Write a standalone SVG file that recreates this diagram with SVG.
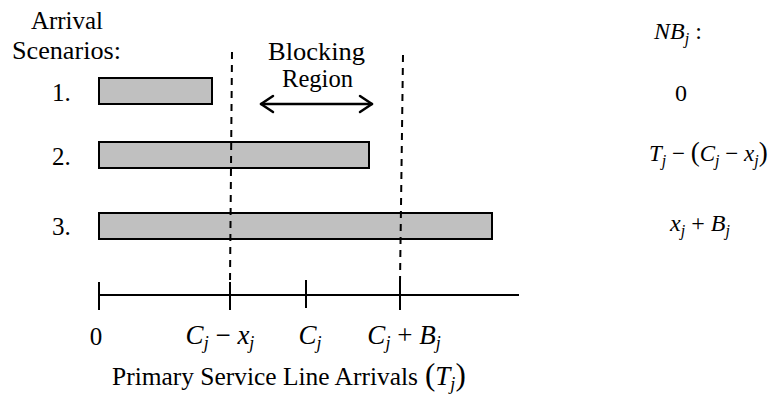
<svg xmlns="http://www.w3.org/2000/svg" width="773" height="400" viewBox="0 0 773 400">
<style>
text{font-family:'Liberation Serif',serif;fill:#000}
.t{font-size:25px}
.m{font-size:27px}
.r{font-size:24px}
.rt{font-size:23px}
.i{font-style:italic}
.s{font-size:18px}
.rs{font-size:16px}
.p{font-size:31px}
.rp{font-size:27px}
.bar{fill:#c0c0c0;stroke:#000;stroke-width:2}
.dash{stroke:#000;stroke-width:2;stroke-dasharray:7 6;fill:none}
.ax{stroke:#000;stroke-width:2;fill:none}
.arr{stroke:#000;stroke-width:2.5;fill:none;stroke-linecap:round;stroke-linejoin:round}
</style>
<rect width="773" height="400" fill="#fff"/>
<g id="labels-left">
<text class="t" x="31" y="29" textLength="72" lengthAdjust="spacingAndGlyphs">Arrival</text>
<text class="t" x="12" y="59" textLength="109" lengthAdjust="spacingAndGlyphs">Scenarios:</text>
<text class="t" x="52" y="101">1.</text>
<text class="t" x="52" y="165">2.</text>
<text class="t" x="52" y="235">3.</text>
</g>
<g id="scenario1"><rect class="bar" x="99" y="78" width="113" height="26"/></g>
<g id="scenario2"><rect class="bar" x="99" y="142" width="270" height="26"/></g>
<g id="scenario3"><rect class="bar" x="99" y="213" width="393" height="26"/></g>
<g id="blocking-region">
<text class="t" x="268" y="60" textLength="97" lengthAdjust="spacingAndGlyphs">Blocking</text>
<text class="t" x="282" y="87" textLength="71" lengthAdjust="spacingAndGlyphs">Region</text>
<line class="arr" x1="261" y1="104" x2="372" y2="104"/>
<polyline class="arr" points="273,96 261,104 273,112"/>
<polyline class="arr" points="360,96 372,104 360,112"/>
</g>
<g id="connectors">
<line class="dash" x1="232" y1="52" x2="230" y2="282"/>
<line class="dash" x1="403" y1="55" x2="400" y2="282"/>
</g>
<g id="axis">
<line class="ax" x1="99" y1="295" x2="519" y2="295"/>
<line class="ax" x1="99" y1="282" x2="99" y2="310"/>
<line class="ax" x1="230" y1="282" x2="230" y2="310"/>
<line class="ax" x1="306" y1="280" x2="306" y2="308"/>
<line class="ax" x1="400" y1="282" x2="400" y2="310"/>
<text class="t" x="96" y="345" text-anchor="middle">0</text>
<text class="m" x="220" y="344" text-anchor="middle"><tspan class="i">C</tspan><tspan class="i s" dy="5">j</tspan><tspan dy="-5"> − </tspan><tspan class="i">x</tspan><tspan class="i s" dy="5">j</tspan></text>
<text class="m" x="310" y="344" text-anchor="middle"><tspan class="i">C</tspan><tspan class="i s" dy="5">j</tspan></text>
<text class="m" x="404" y="344" text-anchor="middle"><tspan class="i">C</tspan><tspan class="i s" dy="5">j</tspan><tspan dy="-5"> + </tspan><tspan class="i">B</tspan><tspan class="i s" dy="5">j</tspan></text>
<text class="t" x="112" y="385" textLength="306" lengthAdjust="spacingAndGlyphs">Primary Service Line Arrivals</text>
<text class="m" x="425" y="385"><tspan class="p">(</tspan><tspan class="i">T</tspan><tspan class="i s" dy="5">j</tspan><tspan class="p" dy="-5">)</tspan></text>
</g>
<g id="nb-column">
<text class="r" x="654" y="39"><tspan class="i">NB</tspan><tspan class="i rs" dy="5">j</tspan><tspan dy="-5">  :</tspan></text>
<text class="r" x="681" y="101" text-anchor="middle">0</text>
<text class="rt" x="649" y="161"><tspan class="i">T</tspan><tspan class="i rs" dy="5">j</tspan><tspan dy="-5"> − </tspan><tspan class="rp">(</tspan><tspan class="i">C</tspan><tspan class="i rs" dy="5">j</tspan><tspan dy="-5"> − </tspan><tspan class="i">x</tspan><tspan class="i rs" dy="5">j</tspan><tspan class="rp" dy="-5">)</tspan></text>
<text class="r" x="700" y="231" text-anchor="middle"><tspan class="i">x</tspan><tspan class="i rs" dy="5">j</tspan><tspan dy="-5"> + </tspan><tspan class="i">B</tspan><tspan class="i rs" dy="5">j</tspan></text>
</g>
</svg>
